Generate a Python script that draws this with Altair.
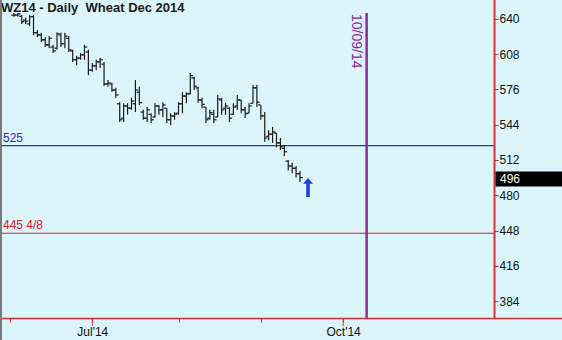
import altair as alt
import pandas as pd

# ---- data (trading-day index: 0 = 2 Jun 2014) ----
bar_idx = list(range(1, 75))
opens = [643.5, 643.5, 642.5, 639, 635.5, 642, 627.5, 625.5, 621, 616.5,
         614.5, 613.5, 625.5, 617.5, 622.5, 611, 603, 604.5, 607.5, 610,
         593.5, 597.5, 601, 599, 581, 581, 575.5, 563, 550, 561,
         559, 563, 573.5, 555.5, 550, 553.5, 551, 561, 557.5, 559,
         548.5, 552, 554.5, 563, 570, 572, 586.5, 577.5, 566.5, 560,
         550, 553.5, 551, 566.5, 559, 559, 553.5, 561, 566.5, 557.5,
         554.5, 563.5, 577.5, 562, 552, 533.5, 535.5, 536.5, 527.5, 522.5,
         511, 506.5, 504.5, 499.5]
highs = [645.5, 645.5, 643.5, 641, 643.5, 643.5, 630, 627.5, 623.5, 624.5,
         616.5, 628, 627.5, 627.5, 624.5, 612, 606.5, 609, 616.5, 612,
         600, 603, 604.5, 601, 584.5, 582, 577.5, 564.5, 563.5, 563.5,
         568.5, 584.5, 578.5, 557.5, 560, 554.5, 563.5, 562, 564.5, 559,
         554.5, 555.5, 564.5, 573.5, 573.5, 591, 587.5, 578.5, 568.5, 560,
         557.5, 557.5, 571, 568.5, 564, 560, 563.5, 571, 566.5, 560,
         563.5, 580, 580, 562, 555.5, 539, 542, 536.5, 532, 525.5,
         512, 509.5, 506.5, 502]
lows = [642, 642, 635.5, 635.5, 633.5, 625.5, 623.5, 619, 614.5, 613.5,
        609, 612, 614.5, 613.5, 610, 601, 598, 603, 603, 589,
        592, 593.5, 595.5, 579, 578.5, 574, 568.5, 546.5, 546.5, 553,
        557.5, 555.5, 562, 548.5, 546.5, 545.5, 550.5, 553, 551, 545.5,
        543.5, 548.5, 553, 554.5, 563.5, 571.5, 575.5, 564, 559, 545.5,
        548.5, 545.5, 551, 553, 553, 546.5, 553, 557.5, 554.5, 550,
        554.5, 563.5, 560, 548.5, 528.5, 530, 527.5, 523.5, 521, 515.5,
        502.5, 500, 496, 492]
closes = [643.5, 644.5, 637.5, 638, 642, 627.5, 625.5, 621, 616.5, 622.5,
          611, 626.5, 617.5, 624.5, 612, 603, 604.5, 607.5, 614.5, 593.5,
          597.5, 601, 603, 581, 582, 575.5, 571, 548.5, 561, 559,
          565.5, 575.5, 564, 550, 557.5, 548.5, 561, 557.5, 562, 548.5,
          552, 553.5, 563, 570, 572, 588.5, 579, 566.5, 562.5, 548.5,
          555, 548.5, 567.5, 557.5, 561, 550, 560, 566.5, 557.5, 554,
          561, 577.5, 564.5, 552, 532, 535.5, 537.5, 527.5, 524, 519.5,
          506.5, 504.5, 499.5, 496]

tick_idx = [0, 21, 43, 64, 85]
tick_lbl = ["", "Jul'14", "", "", "Oct'14"]
major_idx = [21, 85]

levels = [525, 445.5]
level_labels = ["525", "445 4/8"]
level_colors = ["#2c2cc8", "#d8202a"]

event_idx = [91]
event_label = ["10/09/14"]

y_ticks = [384, 416, 448, 480, 512, 544, 576, 608, 640]
title_text = "WZ14 - Daily \u00a0Wheat Dec 2014"

# ---- styling ----
FONT = "Liberation Sans"
RED = "#d8303a"
BG = "#dbf5fb"
X_DOMAIN = [-2.55, 123.5]
Y_DOMAIN = [368.6, 645.4]
W, H = 494, 305

bars = pd.DataFrame({"i": bar_idx, "open": opens, "high": highs,
                     "low": lows, "close": closes})
last = bars.tail(1)
lv = pd.DataFrame({"v": levels, "lab": level_labels, "col": level_colors})
ev = pd.DataFrame({"i": event_idx, "lab": event_label})
mt = pd.DataFrame({"i": major_idx})
tt = pd.DataFrame({"t": [title_text]})

label_expr = " : ".join(
    f"datum.value == {v} ? \"{l}\"" for v, l in zip(tick_idx, tick_lbl) if l
) + " : ''"

xscale = alt.Scale(domain=X_DOMAIN, nice=False, zero=False)
yscale = alt.Scale(domain=Y_DOMAIN, nice=False, zero=False)
xaxis = alt.Axis(values=tick_idx, labelExpr=label_expr, tickSize=4,
                 tickColor=RED, tickWidth=1, domain=False, grid=False,
                 labelPadding=4, labelFontSize=12, labelColor="#111",
                 labelFont=FONT, labelFlush=False, labelOverlap=False)
yaxis = alt.Axis(values=y_ticks, orient="right", tickSize=4,
                 tickColor="#b03a3a", domain=False, grid=False,
                 labelPadding=1, labelFontSize=12, labelColor="#111",
                 labelFont=FONT, format="d", labelOverlap=False,
                 labelFlush=False)


def X(f):
    return alt.X(f"{f}:Q", scale=xscale, axis=xaxis, title=None)


def Y(f):
    return alt.Y(f"{f}:Q", scale=yscale, axis=yaxis, title=None)


base = alt.Chart(bars)
hl = base.mark_rule(color="#1a1a1a", strokeWidth=1.2).encode(
    x=X("i"), y=Y("low"), y2="high")
op = base.mark_tick(orient="horizontal", size=2.6, thickness=1.2,
                    xOffset=-1.4, color="#1a1a1a", opacity=1).encode(
    x=X("i"), y=Y("open"))
cl = base.mark_tick(orient="horizontal", size=2.6, thickness=1.2,
                    xOffset=1.4, color="#1a1a1a", opacity=1).encode(
    x=X("i"), y=Y("close"))

lvl = alt.Chart(lv).mark_rule(strokeWidth=1.2).encode(
    y=Y("v"), color=alt.Color("col:N", scale=None))
lvl_t = alt.Chart(lv).mark_text(align="left", baseline="alphabetic", dy=-4,
                                font=FONT, fontSize=12).encode(
    x=alt.value(3), y=Y("v"), text="lab:N",
    color=alt.Color("col:N", scale=None))

evr = alt.Chart(ev).mark_rule(color="#8e2a9e", strokeWidth=2.5).encode(
    x=X("i"))
evt = alt.Chart(ev).mark_text(angle=90, align="left", baseline="top",
                              dx=1, dy=3.5, font=FONT, fontSize=14,
                              color="#8e2a9e").encode(
    x=X("i"), y=alt.value(0), text="lab:N")

ttl = alt.Chart(tt).mark_text(align="left", baseline="alphabetic", font=FONT,
                              fontSize=13, fontWeight="bold",
                              color="#1a1a1a").encode(
    x=alt.value(1), y=alt.value(-1.5), text="t:N")

right_line = alt.Chart(tt).mark_rule(color=RED, strokeWidth=2).encode(
    x=alt.value(494.5), y=alt.value(-13), y2=alt.value(305))
bottom_line = alt.Chart(tt).mark_rule(color=RED, strokeWidth=1.5).encode(
    y=alt.value(305.5), x=alt.value(0), x2=alt.value(562))
left_line = alt.Chart(tt).mark_rule(color="#7a7a7a", strokeWidth=2).encode(
    x=alt.value(1), y=alt.value(-13), y2=alt.value(327))
majors = alt.Chart(mt).mark_rule(color=RED, strokeWidth=1).encode(
    x=X("i"), y=alt.value(305), y2=alt.value(313))

pbox = alt.Chart(last).mark_rule(color="#000", strokeWidth=15,
                                 yOffset=1.5).encode(
    y=Y("close"), x=alt.value(495.5), x2=alt.value(562))
ptxt = alt.Chart(last).mark_text(align="left", baseline="middle", font=FONT,
                                 fontSize=12, color="#fff",
                                 yOffset=1.5).encode(
    x=alt.value(500), y=Y("close"), text=alt.Text("close:Q", format="d"))

ARROW = "M0,-1 L0.52,-0.42 L0.19,-0.42 L0.19,1 L-0.19,1 L-0.19,-0.42 L-0.52,-0.42 Z"
arrow = alt.Chart(last).mark_point(shape=ARROW, filled=True, size=361,
                                   color="#1a3ee0", opacity=1,
                                   xOffset=8, yOffset=10).encode(
    x=X("i"), y=Y("close"))

chart = alt.layer(
    lvl, evr, hl, op, cl, lvl_t, evt, ttl, majors,
    right_line, bottom_line, left_line, pbox, ptxt, arrow
).properties(
    width=W, height=H,
    autosize=alt.AutoSizeParams(type="none"),
    padding={"left": 0, "top": 13, "right": 68, "bottom": 22},
    background=BG,
).configure_view(stroke=None, fill=BG)

chart.save("out.html", embed_options={"renderer": "svg", "actions": False})
